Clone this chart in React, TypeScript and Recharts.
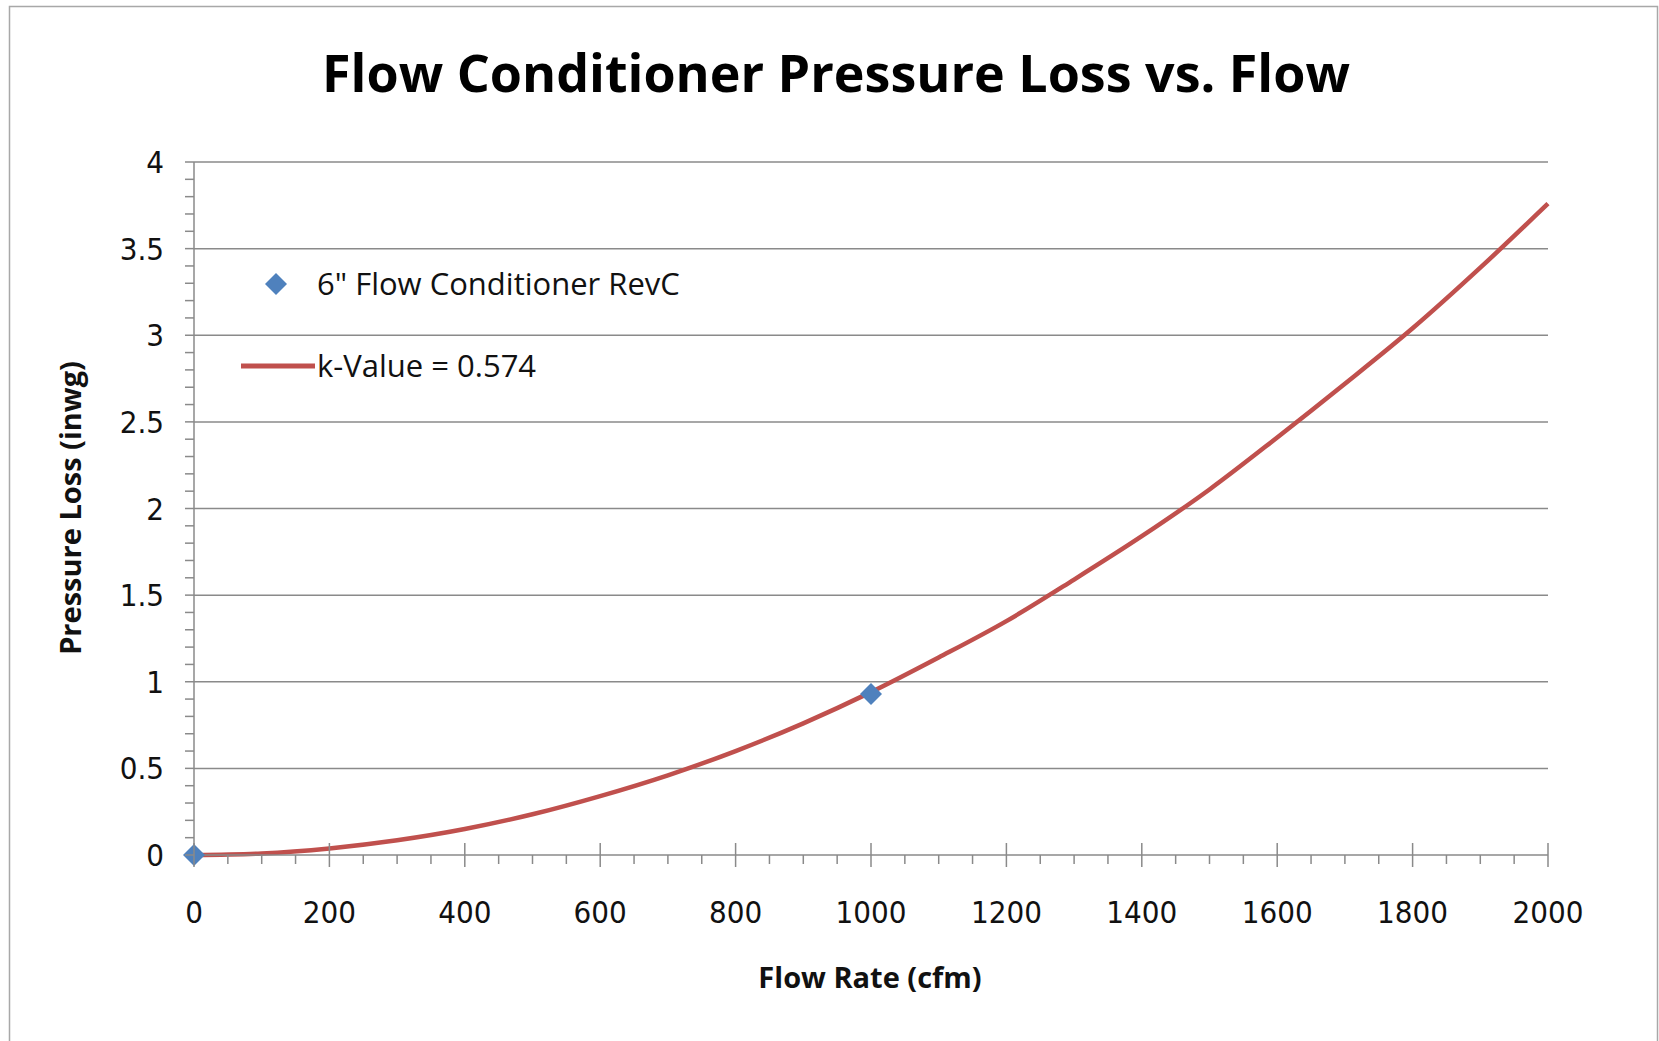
import React from "react";
import {
  ComposedChart,
  Line,
  Scatter,
  XAxis,
  YAxis,
  ReferenceLine,
} from "recharts";

// measured test points
const testFlow = [0, 1000];
const testLoss = [0, 0.93];

// fitted curve, every 100 cfm
const curveFlow = [0, 100, 200, 300, 400, 500, 600, 700, 800, 900, 1000, 1100, 1200, 1300, 1400, 1500, 1600, 1700, 1800, 1900, 2000];
const curveLoss = [0, 0.009, 0.038, 0.085, 0.15, 0.235, 0.34, 0.46, 0.6, 0.76, 0.94, 1.14, 1.35, 1.59, 1.84, 2.11, 2.41, 2.72, 3.04, 3.39, 3.76];

const xTicks = [0, 50, 100, 150, 200, 250, 300, 350, 400, 450, 500, 550, 600, 650, 700, 750, 800, 850, 900, 950, 1000, 1050, 1100, 1150, 1200, 1250, 1300, 1350, 1400, 1450, 1500, 1550, 1600, 1650, 1700, 1750, 1800, 1850, 1900, 1950, 2000];
const xLabels = [0, 200, 400, 600, 800, 1000, 1200, 1400, 1600, 1800, 2000];
const yTicks = [0, 0.1, 0.2, 0.3, 0.4, 0.5, 0.6, 0.7, 0.8, 0.9, 1, 1.1, 1.2, 1.3, 1.4, 1.5, 1.6, 1.7, 1.8, 1.9, 2, 2.1, 2.2, 2.3, 2.4, 2.5, 2.6, 2.7, 2.8, 2.9, 3, 3.1, 3.2, 3.3, 3.4, 3.5, 3.6, 3.7, 3.8, 3.9, 4];
const yLabels = [0, 0.5, 1, 1.5, 2, 2.5, 3, 3.5, 4];

const points = testFlow.map((x, i) => ({ x, y: testLoss[i] }));
const curve = curveFlow.map((x, i) => ({ x, y: curveLoss[i] }));

const GRID = "#8a8a8a";
const RED = "#c0504d";
const BLUE = "#4f81bd";
const tickFont = "'Liberation Sans Narrow', 'DejaVu Sans Condensed', 'Liberation Sans', sans-serif";
const boldFont = "'Open Sans', 'Liberation Sans', sans-serif";

const isLabel = (v: number, list: number[]) => list.some((l) => Math.abs(l - v) < 1e-6);

const XTick = (props: any) => {
  const { x, y, payload } = props;
  const major = isLabel(payload.value, xLabels);
  return (
    <g>
      <line x1={x} x2={x} y1={major ? y - 12 : y} y2={y + (major ? 12 : 9)} stroke={GRID} strokeWidth={1.5} />
      {major && (
        <text x={x} y={y + 68} textAnchor="middle" fontFamily={tickFont} fontSize={31} fill="#111">
          {payload.value}
        </text>
      )}
    </g>
  );
};

const YTick = (props: any) => {
  const { x, y, payload } = props;
  const major = isLabel(payload.value, yLabels);
  return (
    <g>
      <line x1={x - 9} x2={x} y1={y} y2={y} stroke={GRID} strokeWidth={1.5} />
      {major && (
        <text x={x - 30} y={y + 11} textAnchor="end" fontFamily={tickFont} fontSize={31} fill="#111">
          {payload.value}
        </text>
      )}
    </g>
  );
};

const Diamond = (props: any) => {
  const { cx, cy } = props;
  const r = 11;
  return <polygon points={`${cx},${cy - r} ${cx + r},${cy} ${cx},${cy + r} ${cx - r},${cy}`} fill={BLUE} />;
};

export default function App() {
  return (
    <div style={{ position: "absolute", left: 0, top: 0, width: 1659, height: 1041, background: "#fff" }}>
      <ComposedChart
        width={1659}
        height={1041}
        margin={{ top: 162, right: 111, left: 0, bottom: 0 }}
      >
        <XAxis
          dataKey="x"
          type="number"
          domain={[0, 2000]}
          ticks={xTicks}
          interval={0}
          height={186}
          tickSize={0}
          tickMargin={0}
          tickLine={false}
          axisLine={{ stroke: GRID, strokeWidth: 1.5 }}
          tick={<XTick />}
        />
        <YAxis
          type="number"
          domain={[0, 4]}
          ticks={yTicks}
          interval={0}
          width={194}
          tickSize={0}
          tickMargin={0}
          tickLine={false}
          axisLine={{ stroke: GRID, strokeWidth: 1.5 }}
          tick={<YTick />}
        />
        {yLabels.slice(1).map((v) => (
          <ReferenceLine key={v} y={v} stroke={GRID} strokeWidth={1.5} />
        ))}
        <Line
          data={curve}
          dataKey="y"
          type="monotone"
          stroke={RED}
          strokeWidth={4.5}
          dot={false}
          isAnimationActive={false}
        />
        <Scatter data={points} dataKey="y" fill={BLUE} shape={<Diamond />} isAnimationActive={false} />
      </ComposedChart>
      <svg
        width={1659}
        height={1041}
        style={{ position: "absolute", left: 0, top: 0, pointerEvents: "none" }}
      >
        <rect x={9.5} y={6.5} width={1648} height={1040} fill="none" stroke="#a8a8a8" strokeWidth={1.5} />
        <text x={836} y={92} textAnchor="middle" fontFamily={boldFont} fontWeight="bold" fontSize={52} fill="#000">
          Flow Conditioner Pressure Loss vs. Flow
        </text>
        <text x={870} y={988} textAnchor="middle" fontFamily={boldFont} fontWeight="bold" fontSize={29} fill="#111">
          Flow Rate (cfm)
        </text>
        <text
          x={81}
          y={508}
          transform="rotate(-90, 81, 508)"
          textAnchor="middle"
          fontFamily={boldFont}
          fontWeight="bold"
          fontSize={29}
          fill="#111"
        >
          Pressure Loss (inwg)
        </text>
        <polygon points="276,273 287,284 276,295 265,284" fill={BLUE} />
        <text x={317} y={295} fontFamily={boldFont} fontSize={31} fill="#111">
          6" Flow Conditioner RevC
        </text>
        <line x1={241} x2={315} y1={366} y2={366} stroke={RED} strokeWidth={5} />
        <text x={317} y={377} fontFamily={boldFont} fontSize={31} fill="#111">
          k-Value = 0.574
        </text>
      </svg>
    </div>
  );
}
